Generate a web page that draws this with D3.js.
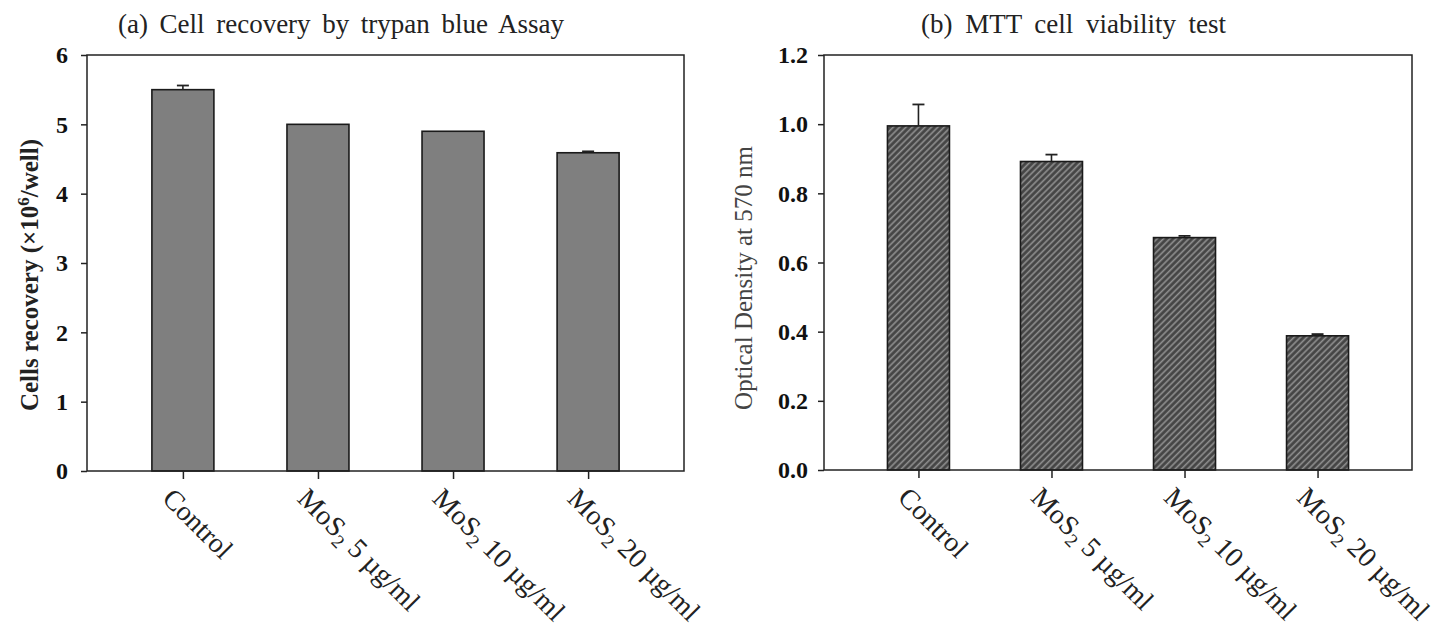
<!DOCTYPE html>
<html><head><meta charset="utf-8">
<script src="https://cdn.jsdelivr.net/npm/d3@7"></script>
<style>body{margin:0;background:#fff}svg{display:block}</style>
</head><body>
<svg id="c" width="1445" height="628"></svg>
<script>
const categories = ["Control", "MoS2 5 µg/ml", "MoS2 10 µg/ml", "MoS2 20 µg/ml"];
const recoveryValues = [5.5, 5.0, 4.9, 4.59];
const recoveryErrors = [0.06, 0, 0, 0.02];
const mttValues = [0.995, 0.892, 0.672, 0.388];
const mttErrors = [0.062, 0.02, 0.005, 0.005];
const recoveryTicks = [0, 1, 2, 3, 4, 5, 6];
const mttTicks = [0, 0.2, 0.4, 0.6, 0.8, 1.0, 1.2];

const svg = d3.select("#c");
const FONT = "'Liberation Serif','Times New Roman',serif";

const defs = svg.append("defs");
const pat = defs.append("pattern").attr("id", "hatch").attr("patternUnits", "userSpaceOnUse")
  .attr("width", 4.5).attr("height", 4.5).attr("patternTransform", "rotate(45)");
pat.append("rect").attr("width", 4.5).attr("height", 4.5).attr("fill", "#444");
pat.append("line").attr("x1", 1.5).attr("y1", 0).attr("x2", 1.5).attr("y2", 4.5)
  .attr("stroke", "#929292").attr("stroke-width", 1.6);

function labelParts(sel, cat) {
  if (cat.startsWith("MoS2")) {
    sel.append("tspan").text("MoS");
    sel.append("tspan").attr("dy", "6").attr("font-size", "19px").text("2");
    sel.append("tspan").attr("dy", "-6").text(cat.slice(4));
  } else sel.text(cat);
}

function panel(opt) {
  const g = svg.append("g");
  const x = d3.scalePoint().domain(categories).range([opt.x0, opt.x1]).padding(0.71);
  const y = d3.scaleLinear().domain([opt.ticks[0], opt.ticks[opt.ticks.length - 1]]).range([opt.y1, opt.y0]);
  const bw = 62;

  g.selectAll("rect.bar").data(categories).join("rect").attr("class", "bar")
    .attr("x", d => x(d) - bw / 2).attr("width", bw)
    .attr("y", (d, i) => y(opt.values[i])).attr("height", (d, i) => y(0) - y(opt.values[i]))
    .attr("fill", opt.fill).attr("stroke", "#1a1a1a").attr("stroke-width", 1.6);

  categories.forEach((c, i) => {
    if (!opt.errors[i]) return;
    const top = y(opt.values[i] + opt.errors[i]);
    g.append("line").attr("x1", x(c)).attr("x2", x(c)).attr("y1", y(opt.values[i])).attr("y2", top)
      .attr("stroke", "#222").attr("stroke-width", 1.6);
    g.append("line").attr("x1", x(c) - 6).attr("x2", x(c) + 6).attr("y1", top).attr("y2", top)
      .attr("stroke", "#222").attr("stroke-width", 1.8);
  });

  g.append("rect").attr("x", opt.x0).attr("y", opt.y0).attr("width", opt.x1 - opt.x0).attr("height", opt.y1 - opt.y0)
    .attr("fill", "none").attr("stroke", "#222").attr("stroke-width", 1.5);

  const ya = g.append("g").attr("transform", `translate(${opt.x0},0)`)
    .call(d3.axisLeft(y).tickValues(opt.ticks).tickFormat(opt.fmt).tickSize(6).tickPadding(opt.pad));
  ya.select(".domain").remove();
  ya.selectAll("line").attr("stroke", "#222").attr("stroke-width", 1.5);
  ya.selectAll("text").attr("font-family", FONT).attr("font-weight", "bold").attr("font-size", "24px").attr("fill", "#111");

  const xa = g.append("g").attr("transform", `translate(0,${opt.y1})`)
    .call(d3.axisBottom(x).tickSize(8).tickFormat(""));
  xa.select(".domain").remove();
  xa.selectAll("line").attr("stroke", "#222").attr("stroke-width", 1.5);

  categories.forEach(c => {
    const sx = x(c) - 22, sy = opt.y1 + 29;
    const t = g.append("text").attr("transform", `translate(${sx},${sy}) rotate(45)`)
      .attr("font-family", FONT).attr("font-size", "28px").attr("fill", "#222");
    labelParts(t, c);
  });

  const tt = g.append("text").attr("x", opt.titleX0).attr("y", 33)
    .attr("font-family", FONT).attr("font-size", "27px").attr("fill", "#222").text(opt.title);
  const nat = tt.node().getComputedTextLength();
  const spaces = (opt.title.match(/ /g) || []).length;
  tt.attr("word-spacing", ((opt.titleW - nat) / spaces) + "px");
  return g;
}

panel({x0: 87, x1: 684, y0: 55, y1: 471, values: recoveryValues, errors: recoveryErrors,
  ticks: recoveryTicks, fmt: d3.format("d"), pad: 13, fill: "#7f7f7f",
  title: "(a) Cell recovery by trypan blue Assay", titleX0: 118, titleW: 446});
panel({x0: 824, x1: 1412, y0: 55, y1: 470, values: mttValues, errors: mttErrors,
  ticks: mttTicks, fmt: d3.format(".1f"), pad: 10, fill: "url(#hatch)",
  title: "(b)  MTT cell viability test", titleX0: 921, titleW: 311});

const yl = svg.append("text").attr("transform", "translate(38,275) rotate(-90)").attr("text-anchor", "middle")
  .attr("font-family", FONT).attr("font-weight", "bold").attr("font-size", "25px").attr("fill", "#222");
yl.append("tspan").text("Cells recovery (×10");
yl.append("tspan").attr("dy", "-9").attr("font-size", "17px").text("6");
yl.append("tspan").attr("dy", "9").text("/well)");

svg.append("text").attr("transform", "translate(752,278) rotate(-90)").attr("text-anchor", "middle")
  .attr("font-family", FONT).attr("font-size", "25px").attr("fill", "#444").text("Optical Density at 570 nm");
</script>
</body></html>
